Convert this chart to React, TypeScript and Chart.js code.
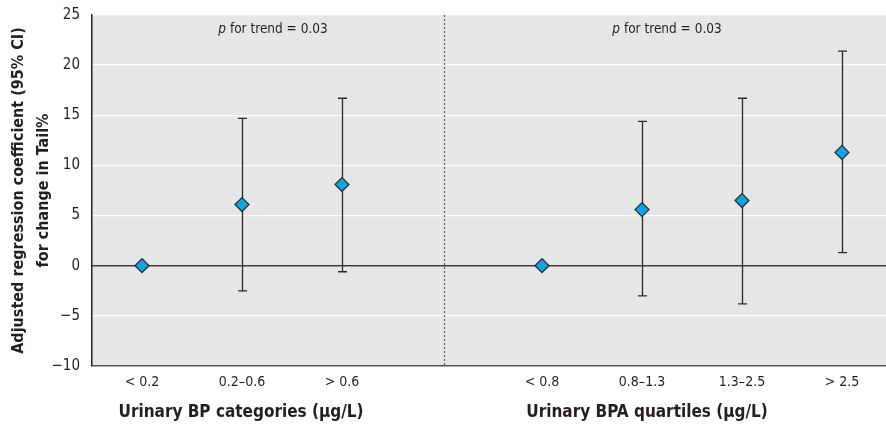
import React, { useEffect, useRef } from "react";
import { Chart, registerables } from "chart.js";

Chart.register(...registerables);

const categoryPositions = [0, 1, 2, 4, 5, 6, 7];
const categoryLabels = ["< 0.2", "0.2–0.6", "> 0.6", "< 0.8", "0.8–1.3", "1.3–2.5", "> 2.5"];
const estimates = [0, 6.1, 8.1, 0, 5.6, 6.5, 11.3];
const lowerCI: (number | null)[] = [null, -2.5, -0.6, null, -3.0, -3.8, 1.3];
const upperCI: (number | null)[] = [null, 14.7, 16.7, null, 14.4, 16.7, 21.4];
const yTicks = [-10, -5, 0, 5, 10, 15, 20, 25];
const groupTitles = ["Urinary BP categories (µg/L)", "Urinary BPA quartiles (µg/L)"];
const groupCenters = [0.99, 5.05];
const trendText = ["0.03", "0.03"];
const trendCenters = [1.31, 5.25];
const dividerAt = 3.02;
const yTitle = ["Adjusted regression coefficient (95% CI)", "for change in Tail%"];

const FONT = "'Liberation Sans Narrow', 'Arial Narrow', 'DejaVu Sans Condensed', sans-serif";

const customPlugin = {
  id: "custom",
  beforeDraw(chart: any) {
    const { ctx, chartArea } = chart;
    ctx.save();
    ctx.fillStyle = "#e5e6e7";
    ctx.fillRect(chartArea.left, chartArea.top, chartArea.right - chartArea.left, chartArea.bottom - chartArea.top);
    ctx.restore();
  },
  beforeDatasetsDraw(chart: any) {
    const { ctx, chartArea, scales } = chart;
    const xs = scales.x;
    const ys = scales.y;
    ctx.save();
    const y0 = ys.getPixelForValue(0);
    ctx.strokeStyle = "#3a3a3a";
    ctx.lineWidth = 1.5;
    ctx.beginPath();
    ctx.moveTo(chartArea.left, y0);
    ctx.lineTo(chartArea.right, y0);
    ctx.stroke();
    const xd = Math.round(xs.getPixelForValue(dividerAt)) + 0.5;
    ctx.strokeStyle = "#666";
    ctx.lineWidth = 1.3;
    ctx.setLineDash([2, 2]);
    ctx.beginPath();
    ctx.moveTo(xd, chartArea.top);
    ctx.lineTo(xd, chartArea.bottom);
    ctx.stroke();
    ctx.setLineDash([]);
    ctx.strokeStyle = "#2a2a2a";
    ctx.lineWidth = 1.3;
    for (let i = 0; i < categoryPositions.length; i++) {
      const lo = lowerCI[i];
      const hi = upperCI[i];
      if (lo == null || hi == null) continue;
      const x = Math.round(xs.getPixelForValue(categoryPositions[i])) + 0.5;
      const yl = ys.getPixelForValue(lo);
      const yh = ys.getPixelForValue(hi);
      ctx.beginPath();
      ctx.moveTo(x, yl);
      ctx.lineTo(x, yh);
      ctx.moveTo(x - 4.5, yl);
      ctx.lineTo(x + 4.5, yl);
      ctx.moveTo(x - 4.5, yh);
      ctx.lineTo(x + 4.5, yh);
      ctx.stroke();
    }
    ctx.restore();
  },
  afterDraw(chart: any) {
    const { ctx, chartArea, scales } = chart;
    const xs = scales.x;
    ctx.save();
    ctx.fillStyle = "#231f20";
    ctx.textBaseline = "middle";
    for (let i = 0; i < trendText.length; i++) {
      const cx = xs.getPixelForValue(trendCenters[i]);
      const pPart = "p";
      const rest = " for trend = " + trendText[i];
      ctx.font = `italic 13.5px ${FONT}`;
      const w1 = ctx.measureText(pPart).width;
      ctx.font = `13.5px ${FONT}`;
      const w2 = ctx.measureText(rest).width;
      const start = cx - (w1 + w2) / 2;
      ctx.textAlign = "left";
      ctx.font = `italic 13.5px ${FONT}`;
      ctx.fillText(pPart, start, chartArea.top + 14);
      ctx.font = `13.5px ${FONT}`;
      ctx.fillText(rest, start + w1, chartArea.top + 14);
    }
    ctx.font = `bold 17px ${FONT}`;
    ctx.textAlign = "center";
    for (let i = 0; i < groupTitles.length; i++) {
      ctx.fillText(groupTitles[i], xs.getPixelForValue(groupCenters[i]), 413);
    }
    const cy = (chartArea.top + chartArea.bottom) / 2;
    ctx.translate(0, cy);
    ctx.rotate(-Math.PI / 2);
    ctx.font = `bold 16px ${FONT}`;
    ctx.fillText(yTitle[0], 0, 19);
    ctx.fillText(yTitle[1], 0, 44);
    ctx.restore();
  },
};

export default function App() {
  const ref = useRef<HTMLCanvasElement>(null);
  useEffect(() => {
    document.body.style.margin = "0";
    const canvas = ref.current!;
    const chart = new Chart(canvas, {
      type: "scatter",
      data: {
        datasets: [
          {
            data: categoryPositions.map((x, i) => ({ x, y: estimates[i] })),
            pointStyle: "rectRot",
            pointRadius: 7,
            pointBackgroundColor: "#12a3e0",
            pointBorderColor: "#2a2a2a",
            pointBorderWidth: 1.2,
            showLine: false,
            clip: false,
          },
        ],
      },
      options: {
        responsive: false,
        animation: false,
        layout: { autoPadding: false, padding: { top: 15, left: 0, right: 0, bottom: 0 } },
        plugins: { legend: { display: false }, tooltip: { enabled: false }, title: { display: false } },
        scales: {
          x: {
            type: "linear",
            min: -0.5,
            max: 7.44,
            afterBuildTicks: (scale: any) => {
              scale.ticks = categoryPositions.map((v) => ({ value: v }));
            },
            afterFit: (scale: any) => {
              scale.height = 67;
              scale.paddingLeft = 0;
              scale.paddingRight = 0;
            },
            grid: { display: false, drawTicks: false },
            border: { display: true, color: "#555", width: 1.5 },
            ticks: {
              autoSkip: false,
              maxRotation: 0,
              padding: 8,
              color: "#231f20",
              font: { family: FONT, size: 14 },
              callback: (v: any) => {
                const idx = categoryPositions.indexOf(Number(v));
                return idx >= 0 ? categoryLabels[idx] : "";
              },
            },
          },
          y: {
            min: -10,
            max: 25,
            afterBuildTicks: (scale: any) => {
              scale.ticks = yTicks.map((v) => ({ value: v }));
            },
            afterFit: (scale: any) => {
              scale.width = 92;
              scale.paddingTop = 0;
              scale.paddingBottom = 0;
            },
            grid: { color: "#ffffff", lineWidth: 1.3, drawTicks: false },
            border: { display: true, color: "#222", width: 1.5 },
            ticks: {
              padding: 12,
              color: "#231f20",
              font: { family: FONT, size: 15 },
              callback: (v: any) => (Number(v) < 0 ? "\u2212" + Math.abs(Number(v)) : String(v)),
            },
          },
        },
      },
      plugins: [customPlugin],
    });
    return () => chart.destroy();
  }, []);
  return (
    <div style={{ width: 886, height: 433 }}>
      <canvas ref={ref} width={886} height={433} style={{ display: "block" }} />
    </div>
  );
}
